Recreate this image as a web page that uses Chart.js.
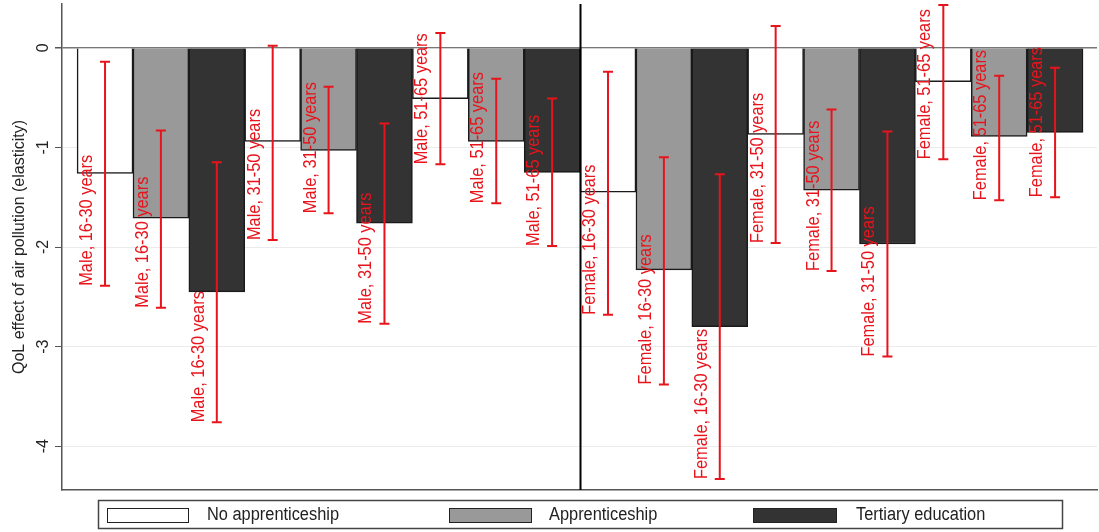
<!DOCTYPE html>
<html>
<head>
<meta charset="utf-8">
<script src="https://cdn.jsdelivr.net/npm/chart.js@4.4.1/dist/chart.umd.min.js"></script>
<style>
html, body { margin: 0; padding: 0; background: #fff; }
#wrap { position: relative; width: 1099px; height: 532px; }
</style>
</head>
<body>
<div id="wrap"><canvas id="chart"></canvas></div>
<script>
const groups = ['Male, 16-30 years', 'Male, 31-50 years', 'Male, 51-65 years',
                'Female, 16-30 years', 'Female, 31-50 years', 'Female, 51-65 years'];
const education = ['No apprenticeship', 'Apprenticeship', 'Tertiary education'];

const noApp   = [-1.26, -0.94, -0.51, -1.45, -0.87, -0.34];
const noAppLo = [-2.39, -1.93, -1.17, -2.68, -1.96, -1.12];
const noAppHi = [-0.14,  0.02,  0.15, -0.24,  0.22,  0.43];

const app   = [-1.71, -1.03, -0.94, -2.23, -1.43, -0.89];
const appLo = [-2.61, -1.66, -1.56, -3.38, -2.24, -1.53];
const appHi = [-0.83, -0.39, -0.31, -1.10, -0.62, -0.28];

const tert   = [-2.45, -1.76, -1.25, -2.80, -1.97, -0.85];
const tertLo = [-3.76, -2.77, -1.99, -4.33, -3.10, -1.50];
const tertHi = [-1.15, -0.76, -0.51, -1.27, -0.84, -0.20];

const yTicks = [0, -1, -2, -3, -4];

const values = [noApp, app, tert];
const ciLo = [noAppLo, appLo, tertLo];
const ciHi = [noAppHi, appHi, tertHi];
const fills = ['#ffffff', '#999999', '#333333'];

const RED = '#e8141c';
const FONT = "'Liberation Sans', Arial, sans-serif";
Chart.defaults.font.family = FONT;
Chart.defaults.font.size = 16;
Chart.defaults.color = '#222';

// error bars, rotated labels and the male/female divider
const errorBars = {
    id: 'errorBars',
    afterDatasetsDraw(chart) {
        const { ctx, chartArea, scales: { x, y } } = chart;
        ctx.save();

        const xd = Math.round(x.getPixelForValue(8.5)) + 0.5;
        ctx.strokeStyle = '#000';
        ctx.lineWidth = 2;
        ctx.beginPath();
        ctx.moveTo(xd, chartArea.top);
        ctx.lineTo(xd, chartArea.bottom);
        ctx.stroke();

        chart.data.datasets.forEach((ds, d) => {
            chart.getDatasetMeta(d).data.forEach((bar, i) => {
                const lo = y.getPixelForValue(ciLo[d][i]);
                const hi = y.getPixelForValue(ciHi[d][i]);
                ctx.strokeStyle = RED;
                ctx.lineWidth = 2;
                ctx.beginPath();
                ctx.moveTo(bar.x, hi); ctx.lineTo(bar.x, lo);
                ctx.moveTo(bar.x - 5, hi); ctx.lineTo(bar.x + 5, hi);
                ctx.moveTo(bar.x - 5, lo); ctx.lineTo(bar.x + 5, lo);
                ctx.stroke();

                // text reads upward from the lower CI bound, slightly condensed
                ctx.save();
                ctx.translate(bar.x - 18, lo);
                ctx.rotate(-Math.PI / 2);
                ctx.scale(0.91, 1);
                ctx.fillStyle = RED;
                ctx.font = '18px ' + FONT;
                ctx.textAlign = 'left';
                ctx.textBaseline = 'middle';
                ctx.fillText(groups[i], 0, 0);
                ctx.restore();
            });
        });
        ctx.restore();
    }
};

// boxed legend under the plot
const boxLegend = {
    id: 'boxLegend',
    afterDraw(chart) {
        const ctx = chart.ctx;
        const sw = [[107, 81], [449, 82], [753, 83]];
        const tx = [207, 549, 856];
        ctx.save();
        ctx.strokeStyle = '#444';
        ctx.lineWidth = 1.5;
        ctx.strokeRect(98.5, 500.5, 964, 28);
        chart.data.datasets.forEach((ds, d) => {
            ctx.fillStyle = ds.backgroundColor;
            ctx.fillRect(sw[d][0], 508, sw[d][1], 14);
            ctx.strokeStyle = '#222';
            ctx.lineWidth = 1;
            ctx.strokeRect(sw[d][0] + 0.5, 508.5, sw[d][1], 14);
            ctx.save();
            ctx.translate(tx[d], 515.5);
            ctx.scale(0.91, 1);
            ctx.fillStyle = '#222';
            ctx.font = '18px ' + FONT;
            ctx.textBaseline = 'middle';
            ctx.fillText(ds.label, 0, 0);
            ctx.restore();
        });
        ctx.restore();
    }
};

new Chart(document.getElementById('chart'), {
    type: 'bar',
    data: {
        datasets: education.map((label, e) => ({
            label,
            data: values[e].map((v, g) => ({ x: g * 3 + e, y: v })),
            backgroundColor: fills[e],
            borderColor: '#1a1a1a',
            borderWidth: 1.5,
            grouped: false,
            barPercentage: 1,
            categoryPercentage: 1
        }))
    },
    options: {
        responsive: true,
        maintainAspectRatio: false,
        animation: false,
        layout: { padding: { left: 0, top: 4, right: 2, bottom: 42 } },
        plugins: {
            legend: { display: false },
            tooltip: { enabled: false }
        },
        scales: {
            x: {
                type: 'linear',
                min: -0.77,
                max: 17.75,
                offset: false,
                grid: { display: false, offset: false },
                ticks: { display: false },
                border: { display: true, color: '#555', width: 1.5 },
                afterFit: s => { s.height = 0; s.paddingLeft = 0; s.paddingRight = 0; }
            },
            y: {
                min: -4.44,
                max: 0.44,
                afterBuildTicks: s => { s.ticks = yTicks.map(v => ({ value: v })); },
                ticks: {
                    minRotation: 90,
                    maxRotation: 90,
                    crossAlign: 'center',
                    padding: 4,
                    color: '#222',
                    font: { size: 16 }
                },
                grid: {
                    color: c => c.tick && c.tick.value === 0 ? '#777' : '#ebebeb',
                    lineWidth: c => c.tick && c.tick.value === 0 ? 1.5 : 1,
                    tickColor: '#555',
                    tickLength: 7
                },
                border: { display: true, color: '#555', width: 1.5 },
                title: {
                    display: true,
                    text: 'QoL effect of air pollution (elasticity)',
                    color: '#222',
                    font: { size: 16 },
                    padding: { top: 10, bottom: 0 }
                },
                afterFit: s => { s.width = 62; s.paddingTop = 0; s.paddingBottom = 0; }
            }
        }
    },
    plugins: [errorBars, boxLegend]
});
</script>
</body>
</html>
